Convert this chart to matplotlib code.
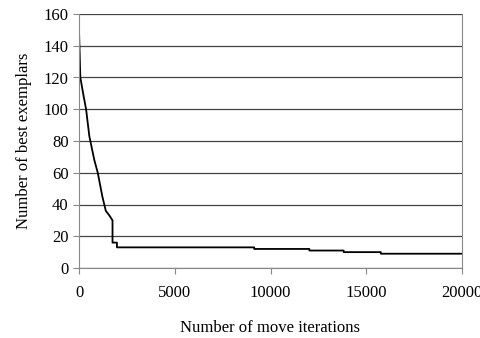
import matplotlib.pyplot as plt

# step data
iters = [0, 70, 230, 370, 540, 800, 980, 1220, 1400, 1590, 1750, 1750, 1980, 1980,
         9150, 9150, 12030, 12030, 13820, 13820, 15760, 15760, 20000]
best = [150, 120, 109, 100, 83, 68, 60, 45, 36, 33, 30, 16, 16, 13,
        13, 12, 12, 11, 11, 10, 10, 9, 9]

plt.rcParams['font.family'] = 'Liberation Serif'

fig = plt.figure(figsize=(4.81, 3.38), dpi=100)
ax = fig.add_axes([79/481, 70/338, 383/481, 254/338])

ax.plot(iters, best, color='black', lw=1.3)

ax.set_xlim(0, 20000)
ax.set_ylim(0, 160)
ax.set_xticks([0, 5000, 10000, 15000, 20000])
ax.set_yticks(range(0, 161, 20))
ax.yaxis.grid(True, color='#444444', lw=0.9)
ax.set_axisbelow(True)

for s in ['left', 'bottom', 'right']:
    ax.spines[s].set_color('#888888')
ax.spines['top'].set_visible(False)
ax.tick_params(colors='#888888', labelcolor='black', labelsize=12, length=4)
ax.tick_params(axis='x', pad=8)

ax.set_xlabel('Number of move iterations', fontsize=12, labelpad=14)
ax.set_ylabel('Number of best exemplars', fontsize=12, labelpad=8)

fig.savefig('out.png', dpi=100)
